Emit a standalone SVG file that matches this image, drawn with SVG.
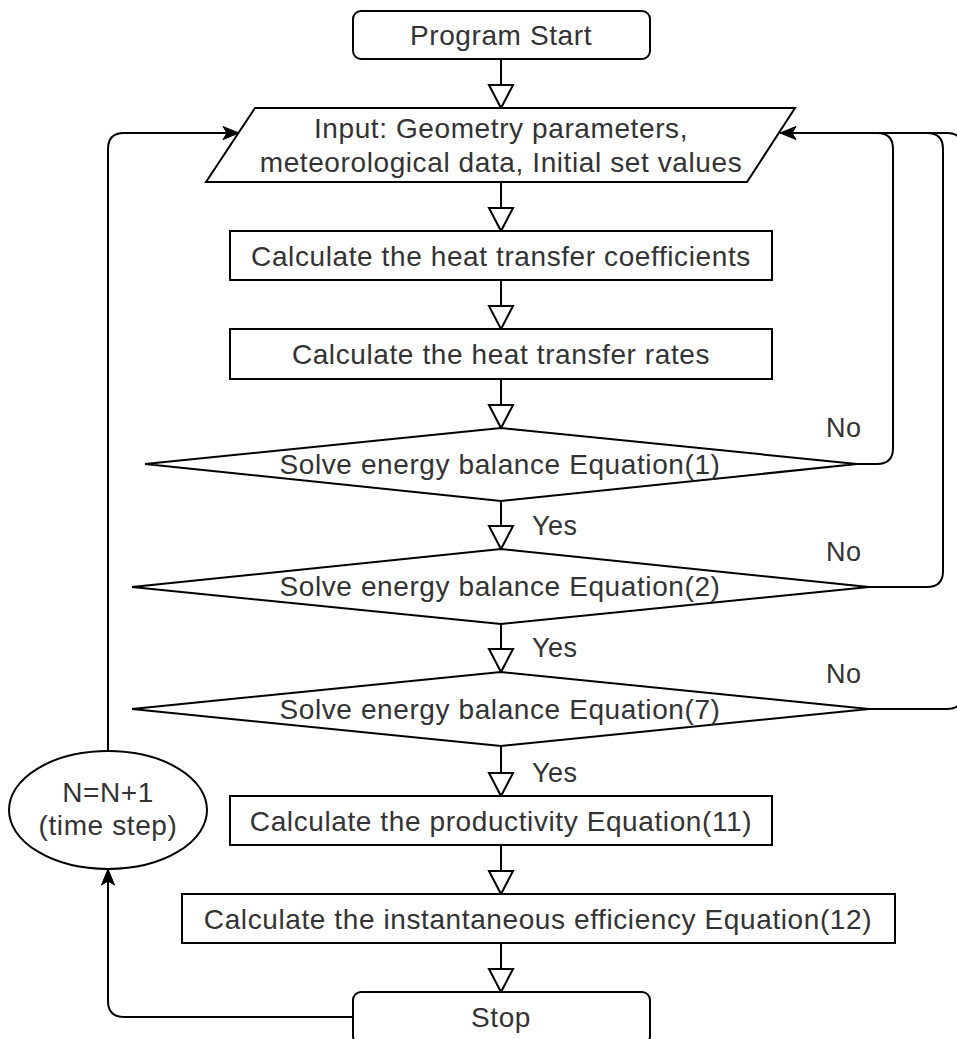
<svg xmlns="http://www.w3.org/2000/svg" width="957" height="1039" viewBox="0 0 957 1039">
<style>
.n{fill:#fff;stroke:#000;stroke-width:2}
.t{font-family:"Liberation Sans",Arial,sans-serif;font-size:28px;letter-spacing:0.6px;fill:#333;text-anchor:middle}
.l{font-family:"Liberation Sans",Arial,sans-serif;font-size:27px;letter-spacing:0.5px;fill:#333}
.c{fill:none;stroke:#000;stroke-width:2}
</style>
<defs>
<marker id="open" markerUnits="userSpaceOnUse" markerWidth="30" markerHeight="30" refX="23" refY="12" orient="auto" overflow="visible">
<path d="M0,0 L23,12 L0,24 Z" fill="#fff" stroke="#000" stroke-width="2"/>
</marker>
<marker id="fill" markerUnits="userSpaceOnUse" markerWidth="20" markerHeight="20" refX="16" refY="6.5" orient="auto" overflow="visible">
<path d="M0,0 L16,6.5 L0,13 L4,6.5 Z" fill="#000" stroke="#000" stroke-width="1"/>
</marker>
</defs>
<rect width="957" height="1039" fill="#fff"/>
<g id="connectors">
<path class="c" d="M501,59 V108" marker-end="url(#open)"/>
<path class="c" d="M501,182 V231" marker-end="url(#open)"/>
<path class="c" d="M501,280 V329" marker-end="url(#open)"/>
<path class="c" d="M501,379 V428" marker-end="url(#open)"/>
<path class="c" d="M501,501 V549" marker-end="url(#open)"/>
<path class="c" d="M501,624 V672" marker-end="url(#open)"/>
<path class="c" d="M501,746 V796" marker-end="url(#open)"/>
<path class="c" d="M501,845 V894" marker-end="url(#open)"/>
<path class="c" d="M501,943 V992" marker-end="url(#open)"/>
<path class="c" d="M857,464 H877 Q893,464 893,448 V149 Q893,133 877,133 H780" marker-end="url(#fill)"/>
<path class="c" d="M869,587 H927 Q943,587 943,571 V149 Q943,133 927,133 H780"/>
<path class="c" d="M869,709 H947 Q963,709 963,693 V149 Q963,133 947,133 H780"/>
<path class="c" d="M353,1017 H124 Q108,1017 108,1001 V869" marker-end="url(#fill)"/>
<path class="c" d="M108,751 V149 Q108,133 124,133 H239" marker-end="url(#fill)"/>
<text class="l" x="532" y="535">Yes</text>
<text class="l" x="532" y="657">Yes</text>
<text class="l" x="532" y="782">Yes</text>
<text class="l" x="826" y="437">No</text>
<text class="l" x="826" y="561">No</text>
<text class="l" x="826" y="683">No</text>
</g>
<g id="start">
<rect class="n" x="353" y="11" width="297" height="48" rx="8"/>
<text class="t" x="501" y="45">Program Start</text>
</g>
<g id="input">
<polygon class="n" points="255,108 795,108 747,182 206,182"/>
<text class="t" x="501" y="138">Input: Geometry parameters,</text>
<text class="t" x="501" y="172">meteorological data, Initial set values</text>
</g>
<g id="coefficients">
<rect class="n" x="230" y="231" width="542" height="49"/>
<text class="t" x="501" y="266">Calculate the heat transfer coefficients</text>
</g>
<g id="rates">
<rect class="n" x="230" y="329" width="542" height="50"/>
<text class="t" x="501" y="364">Calculate the heat transfer rates</text>
</g>
<g id="eq1">
<polygon class="n" points="501,428 857,464 501,501 145,464"/>
<text class="t" x="500" y="474">Solve energy balance Equation(1)</text>
</g>
<g id="eq2">
<polygon class="n" points="501,549 869,587 501,624 132,587"/>
<text class="t" x="500" y="596">Solve energy balance Equation(2)</text>
</g>
<g id="eq7">
<polygon class="n" points="501,672 869,709 501,746 132,709"/>
<text class="t" x="500" y="719">Solve energy balance Equation(7)</text>
</g>
<g id="productivity">
<rect class="n" x="230" y="796" width="542" height="49"/>
<text class="t" x="501" y="831">Calculate the productivity Equation(11)</text>
</g>
<g id="efficiency">
<rect class="n" x="182" y="894" width="713" height="49"/>
<text class="t" x="538" y="929">Calculate the instantaneous efficiency Equation(12)</text>
</g>
<g id="stop">
<rect class="n" x="353" y="992" width="297" height="52" rx="8"/>
<text class="t" x="501" y="1027">Stop</text>
</g>
<g id="timestep">
<ellipse class="n" cx="108" cy="810" rx="99" ry="59"/>
<text class="t" x="108" y="802">N=N+1</text>
<text class="t" x="108" y="835">(time step)</text>
</g>
</svg>
